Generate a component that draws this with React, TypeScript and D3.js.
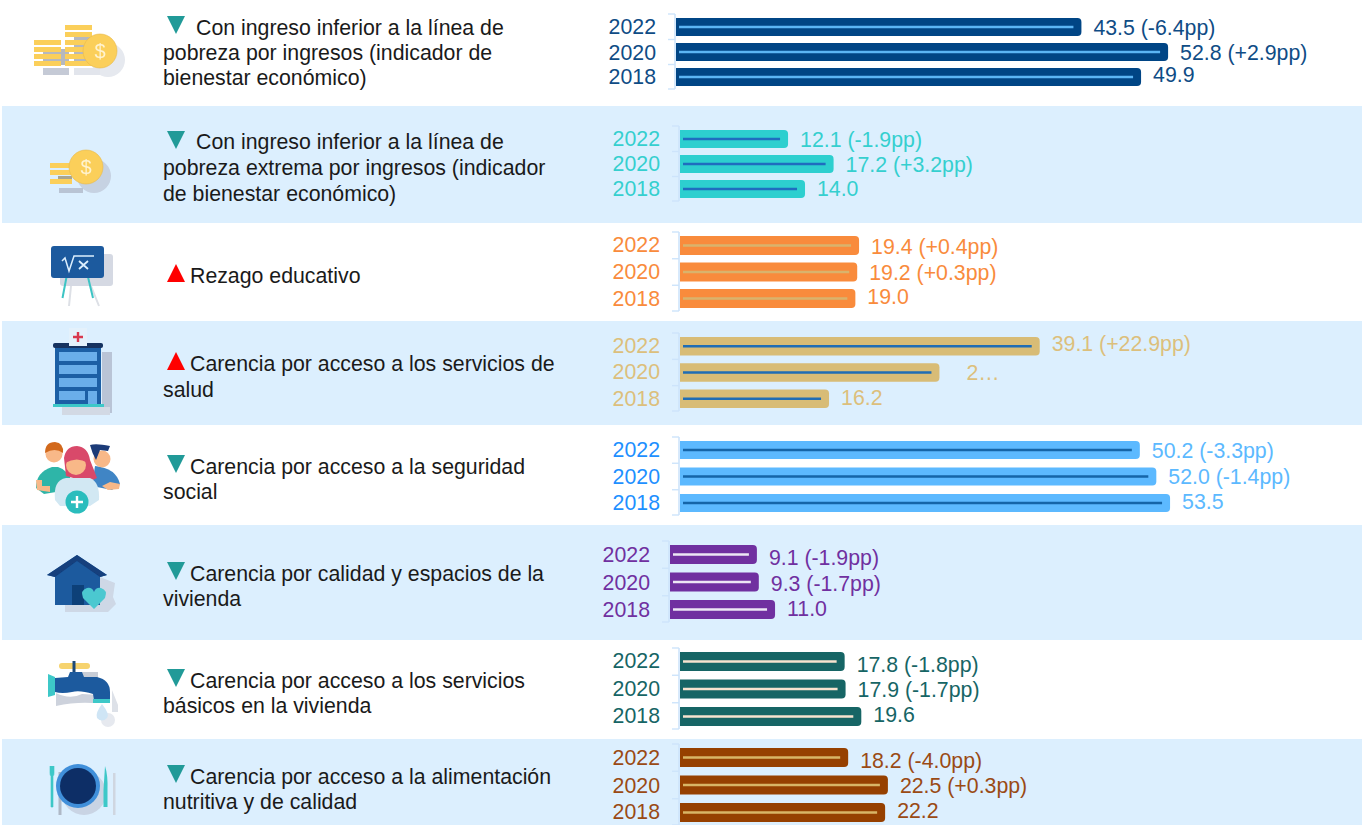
import React from "react";
import * as d3 from "d3";

const years = ["2022", "2020", "2018"];

// Values (percent) per indicator, in the order of `years`
const ingresoValues = [43.5, 52.8, 49.9];
const extremaValues = [12.1, 17.2, 14.0];
const rezagoValues = [19.4, 19.2, 19.0];
const saludValues = [39.1, 28.2, 16.2];
const seguridadValues = [50.2, 52.0, 53.5];
const viviendaValues = [9.1, 9.3, 11.0];
const serviciosValues = [17.8, 17.9, 19.6];
const alimentacionValues = [18.2, 22.5, 22.2];

const ingresoLabels = ["43.5 (-6.4pp)", "52.8 (+2.9pp)", "49.9"];
const extremaLabels = ["12.1 (-1.9pp)", "17.2 (+3.2pp)", "14.0"];
const rezagoLabels = ["19.4 (+0.4pp)", "19.2 (+0.3pp)", "19.0"];
const saludLabels = ["39.1 (+22.9pp)", "2…", "16.2"];
const seguridadLabels = ["50.2 (-3.3pp)", "52.0 (-1.4pp)", "53.5"];
const viviendaLabels = ["9.1 (-1.9pp)", "9.3 (-1.7pp)", "11.0"];
const serviciosLabels = ["17.8 (-1.8pp)", "17.9 (-1.7pp)", "19.6"];
const alimentacionLabels = ["18.2 (-4.0pp)", "22.5 (+0.3pp)", "22.2"];

const ingresoText = ["Con ingreso inferior a la línea de", "pobreza por ingresos (indicador de", "bienestar económico)"];
const extremaText = ["Con ingreso inferior a la línea de", "pobreza extrema por ingresos (indicador", "de bienestar económico)"];
const rezagoText = ["Rezago educativo"];
const saludText = ["Carencia por acceso a los servicios de", "salud"];
const seguridadText = ["Carencia por acceso a la seguridad", "social"];
const viviendaText = ["Carencia por calidad y espacios de la", "vivienda"];
const serviciosText = ["Carencia por acceso a los servicios", "básicos en la vivienda"];
const alimentacionText = ["Carencia por acceso a la alimentación", "nutritiva y de calidad"];

const W = 1362;
const H = 825;
const TEAL = "#219A98";
const RED = "#FF0000";
const BAND = "#DCEFFE";
const FONT_SIZE = 21.3;

type Panel = {
  values: number[]; labels: string[]; text: string[]; up: boolean;
  x0: number; pxPerUnit: number; top: number; bottom: number; barH: number;
  bar: string; inner: string; value: string; year: string;
  yearBase: number[]; valueBase: number[]; labelDx?: number[];
  textBase: number[]; textX: number; triTop: number; band?: [number, number];
};

const panels: Panel[] = [
  { values: ingresoValues, labels: ingresoLabels, text: ingresoText, up: false, x0: 676, pxPerUnit: 9.32, top: 18, bottom: 86, barH: 18,
    bar: "#004585", inner: "#5BB5F5", value: "#0F4C85", year: "#0F4C85",
    yearBase: [34, 60, 84], valueBase: [35, 60, 82], textBase: [34.5, 60, 85], textX: 196, triTop: 16 },
  { values: extremaValues, labels: extremaLabels, text: extremaText, up: false, x0: 680, pxPerUnit: 8.93, top: 130, bottom: 198, barH: 18,
    bar: "#2DCFCF", inner: "#1F6DBF", value: "#35CFCF", year: "#35CFCF",
    yearBase: [146, 171, 196], valueBase: [147, 172, 196], textBase: [149, 175, 201], textX: 196, triTop: 131, band: [106, 223] },
  { values: rezagoValues, labels: rezagoLabels, text: rezagoText, up: true, x0: 680, pxPerUnit: 9.23, top: 236, bottom: 308, barH: 19,
    bar: "#F98B3C", inner: "#D9B36C", value: "#F98B3C", year: "#F98B3C",
    yearBase: [252, 279, 306], valueBase: [254, 280, 304], textBase: [283], textX: 190, triTop: 264 },
  { values: saludValues, labels: saludLabels, text: saludText, up: true, x0: 680, pxPerUnit: 9.2, top: 337, bottom: 408, barH: 18.5,
    bar: "#D8BC76", inner: "#1F6DB5", value: "#DCBF7C", year: "#DCBF7C",
    yearBase: [353, 379, 406], valueBase: [351, 380, 405], labelDx: [0, 15, 0], textBase: [371, 397], textX: 190, triTop: 352, band: [321, 425] },
  { values: seguridadValues, labels: seguridadLabels, text: seguridadText, up: false, x0: 680, pxPerUnit: 9.16, top: 441, bottom: 512, barH: 18,
    bar: "#5CB9FF", inner: "#1565A8", value: "#5CB9FF", year: "#1E90FF",
    yearBase: [457, 483.5, 510], valueBase: [458, 484, 509], textBase: [474, 499], textX: 190, triTop: 455 },
  { values: viviendaValues, labels: viviendaLabels, text: viviendaText, up: false, x0: 670, pxPerUnit: 9.55, top: 545, bottom: 619, barH: 19,
    bar: "#7030A0", inner: "#EDE7F5", value: "#7030A0", year: "#7030A0",
    yearBase: [562, 590, 617], valueBase: [565, 591, 616], textBase: [581, 606], textX: 190, triTop: 562, band: [525, 640] },
  { values: serviciosValues, labels: serviciosLabels, text: serviciosText, up: false, x0: 680, pxPerUnit: 9.25, top: 652, bottom: 726, barH: 19,
    bar: "#166565", inner: "#F7E3CF", value: "#166565", year: "#166565",
    yearBase: [668, 696, 723], valueBase: [672, 697, 722], textBase: [688, 713], textX: 190, triTop: 669 },
  { values: alimentacionValues, labels: alimentacionLabels, text: alimentacionText, up: false, x0: 680, pxPerUnit: 9.24, top: 748, bottom: 822, barH: 19,
    bar: "#964000", inner: "#D8B566", value: "#9A4A14", year: "#9A4A14",
    yearBase: [765, 793, 819], valueBase: [768, 793, 818], textBase: [784, 809], textX: 190, triTop: 765, band: [739, 825] },
];

function barPath(x0: number, x1: number, y: number, h: number, r = 4) {
  const p = d3.path();
  p.moveTo(x0, y);
  p.lineTo(x1 - r, y);
  p.quadraticCurveTo(x1, y, x1, y + r);
  p.lineTo(x1, y + h - r);
  p.quadraticCurveTo(x1, y + h, x1 - r, y + h);
  p.lineTo(x0, y + h);
  p.closePath();
  return p.toString();
}

function Triangle({ top, up }: { top: number; up: boolean }) {
  const pts = up
    ? `167,${top + 18} 176,${top} 185,${top + 18}`
    : `167,${top} 185,${top} 176,${top + 18}`;
  return <polygon points={pts} fill={up ? RED : TEAL} />;
}

function PanelView({ p }: { p: Panel }) {
  const x = d3.scaleLinear().domain([0, 60]).range([p.x0, p.x0 + 60 * p.pxPerUnit]);
  const step = (p.bottom - p.top - p.barH) / 2;
  const y = d3.scaleBand<string>().domain(years).range([p.top, p.bottom])
    .paddingInner(1 - p.barH / (step)).paddingOuter(0);
  const bracket = "#CDE4FB";
  const tickYs = [p.top - 4, p.top + p.barH + (step - p.barH) / 2, p.top + step + p.barH + (step - p.barH) / 2, p.bottom + 3];
  return (
    <g>
      <line x1={p.x0 - 1} x2={p.x0 - 1} y1={tickYs[0]} y2={tickYs[3]} stroke={bracket} strokeWidth={1.6} />
      {tickYs.map((t, i) => (
        <line key={i} x1={p.x0 - 8} x2={p.x0 - 1} y1={t} y2={t} stroke={bracket} strokeWidth={1.4} />
      ))}
      {years.map((yr, i) => {
        const top = y(yr)!;
        const end = x(p.values[i]);
        const mid = top + p.barH / 2;
        return (
          <g key={yr}>
            <path d={barPath(p.x0, end, top, p.barH)} fill={p.bar} />
            <line x1={p.x0 + 3} x2={end - 8} y1={mid} y2={mid} stroke={p.inner} strokeWidth={2.4} />
            <text x={p.x0 - 20} y={p.yearBase[i]} textAnchor="end" fontSize={FONT_SIZE} fill={p.year}>{yr}</text>
            <text x={end + 12 + (p.labelDx ? p.labelDx[i] : 0)} y={p.valueBase[i]} fontSize={FONT_SIZE} fill={p.value}>{p.labels[i]}</text>
          </g>
        );
      })}
      <Triangle top={p.triTop} up={p.up} />
      {p.text.map((t, i) => (
        <text key={i} x={i === 0 ? p.textX : 163} y={p.textBase[i]} fontSize={FONT_SIZE} fill="#1a1a1a">{t}</text>
      ))}
    </g>
  );
}

const Y = "#FBCF5A";

function Icons() {
  const s1 = [40, 47, 54, 61];
  const s2 = [25, 32, 40, 47, 54, 61];
  return (
    <g filter="url(#soft)">
      {/* coins 1 */}
      <circle cx={108} cy={60} r={17} fill="#E6E9EF" />
      <rect x={43} y={68} width={26} height={7} fill="#C5CAD6" />
      <rect x={74} y={68} width={26} height={7} fill="#E2E5EC" />
      <rect x={43} y={49} width={26} height={16} fill="#B5B8BE" />
      <rect x={74} y={37} width={20} height={28} fill="#B5B8BE" />
      {s1.map((t) => <rect key={t} x={34} y={t} width={27} height={5} fill={Y} />)}
      {s2.map((t) => <rect key={t} x={65} y={t} width={27} height={5} fill={Y} />)}
      <circle cx={100} cy={51} r={17} fill={Y} stroke="#E8B84A" strokeWidth={0.6} />
      <text x={100} y={58} textAnchor="middle" fontSize={20} fill="#FFF3D0">$</text>
      {/* coins 2 */}
      <circle cx={94} cy={176} r={17} fill="#C6D2E2" />
      <rect x={59} y={188} width={24} height={5} fill="#B9C4D4" />
      {[163, 170, 179].map((t) => <rect key={t} x={50} y={t} width={22} height={5} fill={Y} />)}
      <rect x={58} y={176} width={14} height={3} fill="#A8A58F" />
      <circle cx={86} cy={167} r={17} fill={Y} stroke="#E8B84A" strokeWidth={0.6} />
      <text x={86} y={174} textAnchor="middle" fontSize={20} fill="#FFF3D0">$</text>
      {/* board */}
      <rect x={60} y={254} width={53} height={32} rx={3} fill="#D5D9E3" />
      <path d="M71 286 L69 306 M91 286 L99 306" stroke="#DDE0E6" strokeWidth={2} />
      <path d="M66.500 277 L62.500 298 M88 277 L93 298" stroke="#3CC4C4" strokeWidth={2} />
      <rect x={51} y={246} width={53} height={32} rx={3} fill="#1C5A9E" />
      <path d="M62 261 L65 258 L69 271 L74 256 L94 256" fill="none" stroke="#DCEFFE" strokeWidth={1.5} />
      <path d="M79 261 L88 269 M88 261 L79 269" stroke="#DCEFFE" strokeWidth={1.8} />
      {/* hospital */}
      <rect x={102} y={352} width={10} height={61} fill="#B9C4D6" />
      <rect x={62} y={407} width={48} height={8} fill="#D2D9E4" />
      <rect x={55} y={345} width={46} height={60} fill="#1E5FA5" />
      {[352, 365, 378].map((t) => <rect key={t} x={59} y={t} width={38} height={9} fill="#6AAEEA" />)}
      <rect x={59} y={391} width={26} height={9} fill="#6AAEEA" />
      <rect x={88} y={391} width={9} height={13} fill="#6AAEEA" />
      <rect x={53} y={343} width={50} height={5} rx={2} fill="#12305F" />
      <rect x={69} y={328} width={18} height={18} fill="#E4F1FB" />
      <path d="M78 332 V342 M73 337 H83" stroke="#D8394E" strokeWidth={2.4} />
      <rect x={53} y={404} width={51} height={3} fill="#3CC8C8" />
      {/* people */}
      <path d="M36 488 Q36 472 52 467 L58 467 Q68 470 72 482 L68 490 L44 494 Z" fill="#2FB5A8" />
      <path d="M36 480 L37 490 L50 492 L50 486 L42 486 L42 480 Z" fill="#F8B888" />
      <circle cx={54} cy={454} r={8.5} fill="#F8B888" />
      <path d="M45 453 Q45 442 55 442 Q64 443 63 453 Q55 447 45 453 Z" fill="#D2691E" />
      <path d="M95 466 Q116 468 120 484 L112 490 L92 486 Z" fill="#3F85C5" />
      <path d="M102 486 L110 482 L120 484 L119 489 L108 490 Z" fill="#F8B888" />
      <circle cx={102} cy={459} r={8.5} fill="#F8B888" />
      <path d="M90 445 Q96 443 110 446 L108 451 L100 450 L96 460 Q92 453 90 445 Z" fill="#1B3A78" />
      <path d="M64 458 Q66 446 77 446 Q88 447 90 460 Q94 470 97 478 L88 482 L66 476 Z" fill="#D9496A" />
      <path d="M55 500 Q53 480 66 478 L90 478 Q100 482 99 500 L90 506 L60 506 Z" fill="#D2E8F3" />
      <circle cx={76} cy={465} r={10} fill="#F8B888" />
      <path d="M65 463 Q67 451 77 452 Q86 453 88 463 Q77 456 65 463 Z" fill="#D9496A" />
      <circle cx={77} cy={502} r={11.500} fill="#2BBDBD" />
      <path d="M77 496 V508 M71 502 H83" stroke="#FFF" strokeWidth={2.4} />
      {/* house */}
      <path d="M100 577 L115 583 L113 597 L116 604 L108 612 L65 612 L65 605 L100 605 Z" fill="#CED8E6" />
      <polygon points="47,575 77,555 107,575 100,577 100,605 55,605 55,577" fill="#1C5A9E" />
      <path d="M47 575 L77 555 L107 575 L100 577 L77 561 L55 577 Z" fill="#123F7D" />
      <rect x={72} y={585} width={12} height={20} fill="#0F3F78" />
      <path d="M94 609 L83 598 Q80 590 87 588 Q92 587 94 592 Q96 587 101 588 Q108 590 105 598 Z" fill="#4CC8D0" />
      {/* faucet */}
      <path d="M56 693 Q70 700 82 694 L100 695 L100 703 L92 703 Q75 702 56 706 Z" fill="#CDD2DC" />
      <path d="M112 690 L118 705 L118 712 L112 712 Z" fill="#DDE1E8" />
      <circle cx={108} cy={720} r={7} fill="#E6E9EF" />
      <rect x={59} y={663} width={31} height={6} rx={3} fill="#F6D36E" />
      <rect x={72.500} y={661} width={3} height={12} fill="#1E4A78" />
      <path d="M82 672 H98 V680 H82 Z" fill="#C8CDD6" />
      <path d="M55 678 L68 677 L70 672 L82 672 L84 677 L97 677 Q110 680 110 692 L110 700 L94 700 L93 694 Q80 690 72 692 Q62 694 55 692 Z" fill="#1C5A9E" />
      <polygon points="48,674 55,677 55,695 48,697" fill="#3CC8C8" />
      <rect x={93} y={699} width={17} height={4} fill="#3CC8C8" />
      <path d="M102 704 Q110 714 107 718 Q102 723 97 718 Q95 713 102 704 Z" fill="#CFE5F5" />
      {/* plate */}
      <circle cx={84} cy={793} r={22} fill="#C9D4E4" />
      <rect x={58.500} y={772} width={3} height={43} fill="#AEB8C6" />
      <rect x={113} y={773} width={2.500} height={42} fill="#CFD6E0" />
      <path d="M50 766 V773 Q50 776 51 776 L51 807 L53 807 L53 776 Q54 776 54 773 V766" fill="#3CC8C8" stroke="#3CC8C8" strokeWidth={0.6} />
      <path d="M105 766 Q108 775 107.500 790 L107.500 807 L103.500 807 L103.500 790 Z" fill="#3CC8C8" />
      <circle cx={78} cy={786} r={22} fill="#3F8FDA" />
      <circle cx={78} cy={786} r={18} fill="#0D2F66" />
    </g>
  );
}

export default function App() {
  return (
    <svg
      width={W}
      height={H}
      viewBox={`0 0 ${W} ${H}`}
      style={{ position: "absolute", left: 0, top: 0, display: "block", fontFamily: "'Liberation Sans', Arial, sans-serif" }}
    >
      <defs>
        <filter id="soft" x="-5%" y="-5%" width="110%" height="110%">
          <feGaussianBlur stdDeviation="0.4" />
        </filter>
      </defs>
      <rect width={W} height={H} fill="#FFFFFF" />
      {panels.filter((p) => p.band).map((p) => (
        <rect key={p.band![0]} x={2} y={p.band![0]} width={W - 2} height={p.band![1] - p.band![0]} fill={BAND} />
      ))}
      <Icons />
      {panels.map((p, i) => <PanelView key={i} p={p} />)}
    </svg>
  );
}
